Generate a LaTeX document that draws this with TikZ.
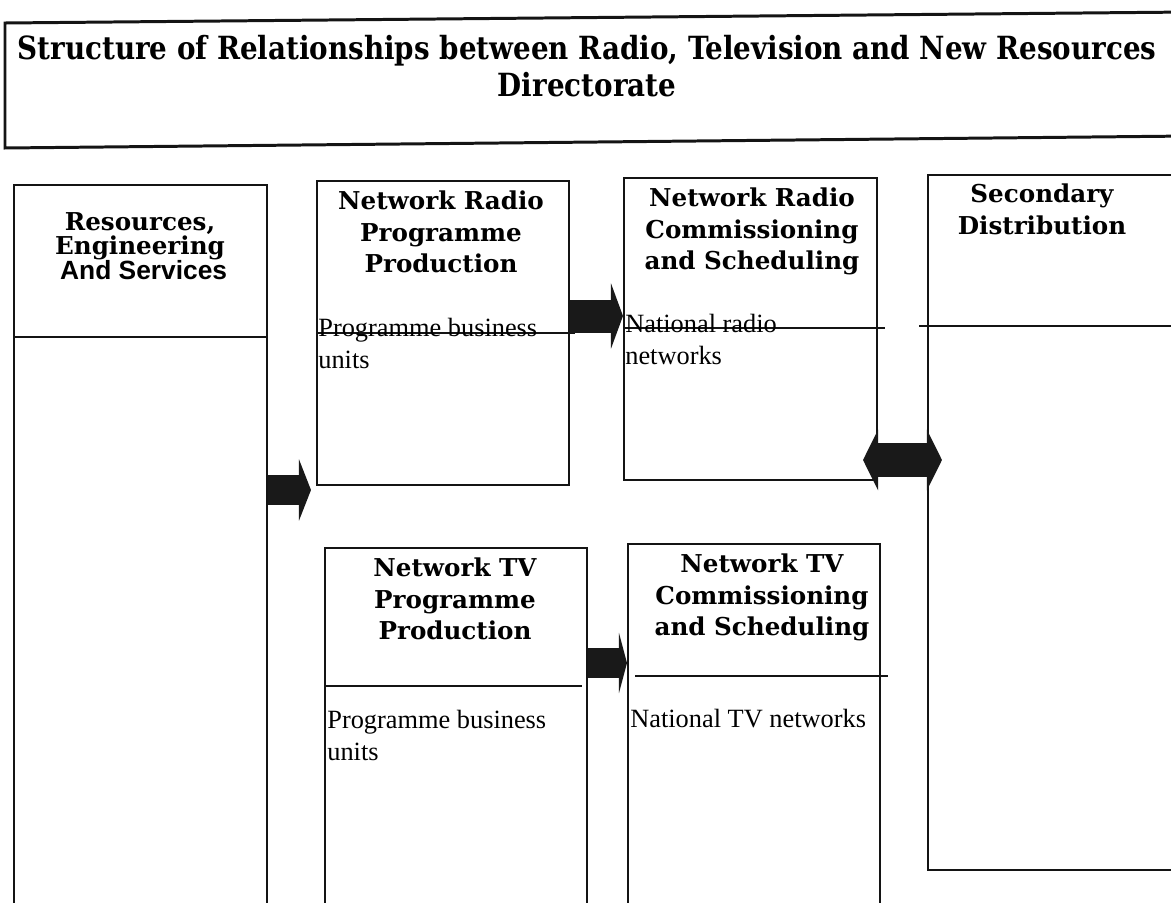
\documentclass[tikz,border=0pt]{standalone}
\usepackage{fontspec}
\setmainfont{Liberation Serif}
\newfontfamily\headserif{DejaVu Serif}
\newfontfamily\headsans{Liberation Sans}
\usetikzlibrary{arrows.meta,fit}

% one unit = 0.02cm, y grows downwards
\tikzset{
  frame/.style={draw=black!92, line width=1.15pt, inner sep=0pt},
  rule/.style={draw=black!92, line width=1.15pt},
  titletext/.style={font=\headserif\bfseries\fontsize{15.8}{21}\selectfont, align=center, inner sep=0pt, anchor=north},
  heading/.style={font=\headserif\bfseries\fontsize{14}{18.2}\selectfont, align=center, inner sep=0pt, anchor=north},
  bodytext/.style={font=\fontsize{15}{18}\selectfont, align=left, inner sep=0pt, anchor=north west},
  blockarrow/.style={draw=black!90, line cap=butt}
}

\begin{document}
\begin{tikzpicture}[x=0.02cm, y=-0.02cm]
\useasboundingbox (0,0) rectangle (1171,903);
\clip (0,0) rectangle (1171,903);

% title banner
\draw[frame, line width=1.7pt] (5,23) -- (1190,12) -- (1190,136) -- (5,148) -- cycle;
\node[titletext] (title) at (587,35)
  {\scalebox{1}[1.15]{Structure of Relationships between Radio, Television and New Resources}\\
   \scalebox{1}[1.15]{Directorate}};

% boxes
\node[frame, fit={(14,185) (267,920)}] (res) {};
\node[frame, fit={(317,181) (569,485)}] (rprod) {};
\node[frame, fit={(624,178) (877,480)}] (rcomm) {};
\node[frame, fit={(928,175) (1190,870)}] (sec) {};
\node[frame, fit={(325,548) (587,920)}] (tvprod) {};
\node[frame, fit={(628,544) (880,920)}] (tvcomm) {};

% dividers between heading and contents
\draw[rule] (14,337) -- (267,337);
\draw[rule] (317,333) -- (575,333);
\draw[rule] (624,328) -- (885,328);
\draw[rule] (919,326) -- (1171,326);
\draw[rule] (325,686) -- (582,686);
\draw[rule] (635,676) -- (888,676);

% headings
\node[heading, font=\headserif\bfseries\fontsize{14}{14}\selectfont] (reshead) at (140,212)
  {Resources,\\Engineering\\{\headsans\bfseries\fontsize{15}{14}\selectfont\ And Services}};
\node[heading] (rprodhead) at (441,190) {Network Radio\\Programme\\Production};
\node[heading] (rcommhead) at (752,187) {Network Radio\\Commissioning\\and Scheduling};
\node[heading] (sechead) at (1042,183) {Secondary\\Distribution};
\node[heading] (tvprodhead) at (455,557) {Network TV\\Programme\\Production};
\node[heading] (tvcommhead) at (762,553) {Network TV\\Commissioning\\and Scheduling};

% contents
\node[bodytext] (rprodbody) at (318,318) {Programme business\\units};
\node[bodytext] (rcommbody) at (625,314) {National radio\\networks};
\node[bodytext] (tvprodbody) at (327,710) {Programme business\\units};
\node[bodytext] (tvcommbody) at (630,709) {National TV networks};

% block arrows
\coordinate (ya) at (0,490);
\coordinate (yb) at (0,316);
\coordinate (yc) at (0,663);
\coordinate (yd) at (0,460);
\draw[blockarrow, line width=0.6cm, -{Triangle[length=0.24cm,width=1.22cm]}, shorten >=0.1cm]
  (res.east |- ya) -- (rprod.west |- ya);
\draw[blockarrow, line width=0.66cm, -{Triangle[length=0.24cm,width=1.3cm]}]
  (rprod.east |- yb) -- (rcomm.west |- yb);
\draw[blockarrow, line width=0.6cm, -{Triangle[length=0.16cm,width=1.2cm]}]
  (tvprod.east |- yc) -- (tvcomm.west |- yc);
\draw[blockarrow, line width=0.68cm, {Triangle[length=0.3cm,width=1.2cm]}-{Triangle[length=0.3cm,width=1.2cm]},
  shorten <=-0.3cm, shorten >=-0.3cm]
  (rcomm.east |- yd) -- (sec.west |- yd);
\end{tikzpicture}
\end{document}
